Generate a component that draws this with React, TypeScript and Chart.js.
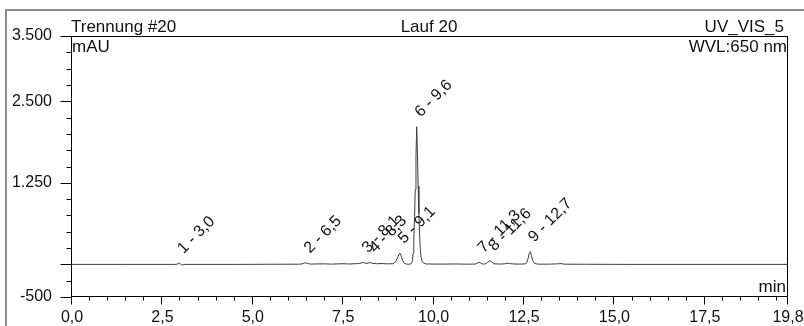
import React, { useEffect, useRef } from "react";
import { Chart, registerables } from "chart.js";

Chart.register(...registerables);

const sampleName = "Trennung #20";
const runName = "Lauf 20";
const channelName = "UV_VIS_5";
const yUnit = "mAU";
const wavelength = "WVL:650 nm";
const xUnit = "min";

// retention time (min)
const times = [
  0, 1.5, 2.9, 2.96, 3.0, 3.03, 3.06, 3.1, 3.15, 4.6, 5.5, 6.3, 6.4, 6.46, 6.5, 6.55, 6.62,
  7.0, 7.2, 7.5, 7.7, 7.95, 8.05, 8.1, 8.15, 8.22, 8.27, 8.32, 8.45, 8.6, 8.75, 8.9, 8.98,
  9.03, 9.07, 9.1, 9.13, 9.17, 9.22, 9.28, 9.35, 9.4, 9.42, 9.44, 9.46, 9.48, 9.5, 9.52,
  9.54, 9.56, 9.58, 9.6, 9.62, 9.64, 9.66, 9.68, 9.71, 9.75, 9.82, 10.2, 10.6, 11.0, 11.18,
  11.25, 11.3, 11.36, 11.45, 11.52, 11.58, 11.63, 11.7, 11.85, 12.0, 12.08, 12.13, 12.25,
  12.4, 12.55, 12.6, 12.64, 12.67, 12.7, 12.73, 12.77, 12.82, 12.9, 13.2, 13.45, 13.55,
  13.65, 14.2, 15.4, 19.8,
];
// absorbance (mAU)
const signal = [
  0, 0, 0, 8, 18, 5, -8, -6, 0, 0, 2, 3, 8, 20, 25, 12, 5,
  8, 4, 10, 6, 12, 25, 28, 15, 20, 28, 18, 10, 12, 8, 10, 40,
  100, 155, 170, 130, 60, 15, 4, 2, 8, 20, 60, 170, 380, 720, 1150,
  1650, 2110, 1700, 1200, 780, 440, 230, 110, 45, 18, 6, 4, 6, 3, 5,
  25, 30, 8, 5, 30, 55, 40, 8, 5, 8, 20, 12, 6,
  4, 6, 25, 90, 165, 195, 140, 55, 15, 4, 3, 8, 12,
  3, 2, 0, 0,
];

const peakTimes = [3.0, 6.5, 8.1, 8.3, 9.1, 9.56, 11.3, 11.6, 12.7];
const peakHeights = [18, 25, 28, 28, 170, 2110, 30, 55, 195];
const peakLabels = ["1 - 3,0", "2 - 6,5", "3 - 8,1", "4 - 8,3", "5 - 9,1", "6 - 9,6", "7 - 11,3", "8 - 11,6", "9 - 12,7"];

const xMin = 0;
const xMax = 19.8;
const xMinorStep = 0.5;
const xTickValues = [0, 2.5, 5, 7.5, 10, 12.5, 15, 17.5, 19.8];
const xTickLabels = ["0,0", "2,5", "5,0", "7,5", "10,0", "12,5", "15,0", "17,5", "19,8"];

const yMin = -500;
const yMax = 3500;
const yMinorStep = 250;
const yTickValues = [-500, 1250, 2500, 3500];
const yTickLabels = ["-500", "1.250", "2.500", "3.500"];

const FONT = "'Liberation Sans', Arial, sans-serif";
const TEXT = "#111";

const decorPlugin = {
  id: "decor",
  afterDraw(chart: any) {
    const ctx = chart.ctx as CanvasRenderingContext2D;
    const a = chart.chartArea;
    const xs = chart.scales.x;
    const ys = chart.scales.y;
    ctx.save();

    // outer frame
    ctx.strokeStyle = "#8c8c8c";
    ctx.lineWidth = 2;
    ctx.beginPath();
    ctx.moveTo(6, 326);
    ctx.lineTo(6, 10);
    ctx.lineTo(804, 10);
    ctx.stroke();

    // plot rectangle
    ctx.strokeStyle = "#000";
    ctx.lineWidth = 1;
    const L = Math.round(a.left) + 0.5;
    const R = Math.round(a.right) + 0.5;
    const T = Math.round(a.top) + 0.5;
    const B = Math.round(a.bottom) - 0.5;
    ctx.strokeRect(L, T, R - L, B - T);

    // y ticks
    ctx.beginPath();
    for (let v = yMin; v <= yMax + 1e-6; v += yMinorStep) {
      const y = Math.round(ys.getPixelForValue(v)) + 0.5;
      const major = yTickValues.includes(v) || v === 0;
      ctx.moveTo(L, y);
      ctx.lineTo(L - (major ? 11 : 5), y);
    }
    // x ticks
    const xt: number[] = [];
    for (let v = xMin; v <= xMax + 1e-6; v += xMinorStep) xt.push(Math.round(v * 10) / 10);
    xt.push(xMax);
    xt.forEach((v) => {
      const x = Math.round(xs.getPixelForValue(v)) + 0.5;
      const major = xTickValues.includes(v);
      ctx.moveTo(x, B);
      ctx.lineTo(x, B + (major ? 8 : 4));
    });
    ctx.stroke();

    // x tick labels
    ctx.fillStyle = TEXT;
    ctx.font = `16px ${FONT}`;
    ctx.textAlign = "center";
    ctx.textBaseline = "alphabetic";
    xTickValues.forEach((v, i) => {
      ctx.fillText(xTickLabels[i], xs.getPixelForValue(v) + 1, 322);
    });

    // header texts
    ctx.font = `17px ${FONT}`;
    ctx.textAlign = "left";
    ctx.fillText(sampleName, a.left, 32);
    ctx.textAlign = "center";
    ctx.fillText(runName, (a.left + a.right) / 2, 32);
    ctx.textAlign = "right";
    ctx.fillText(channelName, a.right - 3, 32);
    ctx.textAlign = "left";
    ctx.fillText(yUnit, a.left + 1, 52);
    ctx.textAlign = "right";
    ctx.fillText(wavelength, a.right, 52);
    ctx.fillText(xUnit, a.right - 1, 292);

    // peak labels
    ctx.font = `16px ${FONT}`;
    ctx.textAlign = "left";
    peakLabels.forEach((lab, i) => {
      const x = xs.getPixelForValue(peakTimes[i]) + 4;
      const y = ys.getPixelForValue(peakHeights[i]) - 9;
      ctx.save();
      ctx.translate(x, y);
      ctx.rotate(-Math.PI / 4);
      ctx.fillText(lab, 0, 0);
      ctx.restore();
    });

    ctx.restore();
  },
};

export default function App() {
  const ref = useRef<HTMLCanvasElement>(null);
  useEffect(() => {
    if (!ref.current) return;
    const chart = new Chart(ref.current, {
      type: "line",
      data: {
        datasets: [
          {
            data: times.map((t, i) => ({ x: t, y: signal[i] })),
            borderColor: "#3c3c3c",
            borderWidth: 1,
            pointRadius: 0,
            tension: 0,
            fill: false,
          },
        ],
      },
      options: {
        responsive: false,
        animation: false,
        devicePixelRatio: 1,
        layout: { padding: { left: 0, right: 17, top: 36, bottom: 0 } },
        plugins: { legend: { display: false }, tooltip: { enabled: false }, title: { display: false } },
        scales: {
          x: {
            type: "linear",
            min: xMin,
            max: xMax,
            grid: { display: false },
            border: { display: false },
            afterBuildTicks: (s: any) => {
              s.ticks = xTickValues.map((v) => ({ value: v }));
            },
            afterFit: (s: any) => {
              s.height = 29;
              s.paddingLeft = 0;
              s.paddingRight = 0;
            },
            ticks: { display: false },
          },
          y: {
            type: "linear",
            min: yMin,
            max: yMax,
            grid: { display: false },
            border: { display: false },
            afterBuildTicks: (s: any) => {
              s.ticks = yTickValues.map((v) => ({ value: v }));
            },
            afterFit: (s: any) => {
              s.width = 71;
              s.paddingTop = 0;
              s.paddingBottom = 0;
            },
            ticks: {
              autoSkip: false,
              padding: 11,
              color: TEXT,
              font: { family: FONT, size: 16 },
              callback: (_v: any, i: number) => yTickLabels[i] ?? "",
            },
          },
        },
      },
      plugins: [decorPlugin],
    });
    return () => chart.destroy();
  }, []);
  return (
    <div style={{ position: "absolute", left: 0, top: 0, width: 804, height: 326, background: "#fff" }}>
      <canvas ref={ref} width={804} height={326} style={{ display: "block" }} />
    </div>
  );
}
